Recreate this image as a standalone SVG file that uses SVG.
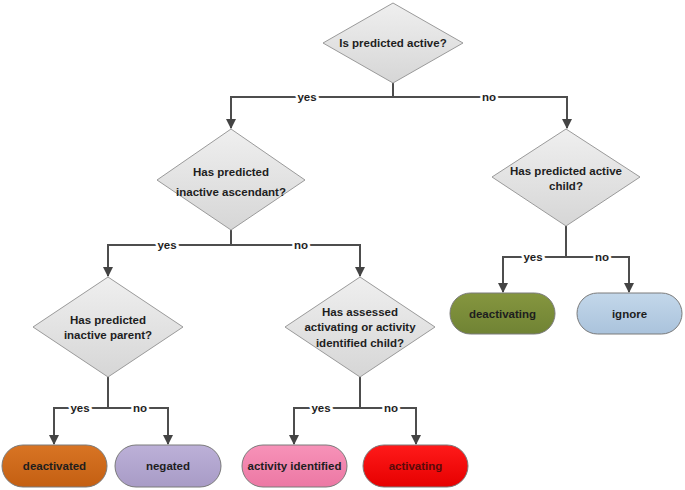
<svg xmlns="http://www.w3.org/2000/svg" width="685" height="490" viewBox="0 0 685 490">
<defs>
<linearGradient id="gd" x1="0" y1="0" x2="0" y2="1"><stop offset="0" stop-color="#efefef"/><stop offset="1" stop-color="#d6d6d6"/></linearGradient>
<linearGradient id="g1" x1="0" y1="0" x2="0" y2="1"><stop offset="0" stop-color="#d87424"/><stop offset="1" stop-color="#c45f12"/></linearGradient>
<linearGradient id="g2" x1="0" y1="0" x2="0" y2="1"><stop offset="0" stop-color="#bcb0d8"/><stop offset="1" stop-color="#a89bc6"/></linearGradient>
<linearGradient id="g3" x1="0" y1="0" x2="0" y2="1"><stop offset="0" stop-color="#f792b8"/><stop offset="1" stop-color="#ec78a4"/></linearGradient>
<linearGradient id="g4" x1="0" y1="0" x2="0" y2="1"><stop offset="0" stop-color="#ff1a1a"/><stop offset="1" stop-color="#e60000"/></linearGradient>
<linearGradient id="g5" x1="0" y1="0" x2="0" y2="1"><stop offset="0" stop-color="#85963f"/><stop offset="1" stop-color="#708334"/></linearGradient>
<linearGradient id="g6" x1="0" y1="0" x2="0" y2="1"><stop offset="0" stop-color="#c3d7ea"/><stop offset="1" stop-color="#aac3dc"/></linearGradient>
<marker id="arr" viewBox="0 0 10 10" refX="9" refY="5" markerWidth="5.2" markerHeight="5.2" orient="auto"><path d="M0,0 L10,5 L0,10 z" fill="#444"/></marker>
</defs>
<style>
.dia{fill:url(#gd);stroke:#9a9a9a;stroke-width:1}
.pill{stroke:#7a7a7a;stroke-width:1}
.t{font-family:"Liberation Sans",Arial,sans-serif;font-weight:bold;font-size:11.5px;fill:#1e1e1e;text-anchor:middle}
.c{fill:none;stroke:#4d4d4d;stroke-width:2}
.a{marker-end:url(#arr)}
.lbl{font-family:"Liberation Sans",Arial,sans-serif;font-weight:bold;font-size:11.5px;fill:#1e1e1e;text-anchor:middle;paint-order:stroke;stroke:#fff;stroke-width:5px}
</style>
<rect width="685" height="490" fill="#fff"/>
<g id="connectors">
<path class="c" d="M393,83 V97"/>
<path class="c a" d="M393,97 H231 V128"/>
<path class="c a" d="M393,97 H567 V128"/>
<path class="c" d="M231,230 V245"/>
<path class="c a" d="M231,245 H108 V276"/>
<path class="c a" d="M231,245 H360 V276"/>
<path class="c" d="M108,377 V408"/>
<path class="c a" d="M108,408 H54 V444"/>
<path class="c a" d="M108,408 H168 V444"/>
<path class="c" d="M360,377 V408"/>
<path class="c a" d="M360,408 H294 V444"/>
<path class="c a" d="M360,408 H416 V444"/>
<path class="c" d="M566,226 V257"/>
<path class="c a" d="M566,257 H503 V292"/>
<path class="c a" d="M566,257 H629 V292"/>
<text class="lbl" x="307" y="101">yes</text>
<text class="lbl" x="489" y="101">no</text>
<text class="lbl" x="167" y="249">yes</text>
<text class="lbl" x="301" y="249">no</text>
<text class="lbl" x="80" y="412">yes</text>
<text class="lbl" x="140" y="412">no</text>
<text class="lbl" x="321" y="412">yes</text>
<text class="lbl" x="391" y="412">no</text>
<text class="lbl" x="533" y="261">yes</text>
<text class="lbl" x="602" y="261">no</text>
</g>
<g id="q1"><polygon class="dia" points="393,3 463,43 393,83 323,43"/><text class="t" x="393" y="47">Is predicted active?</text></g>
<g id="q2"><polygon class="dia" points="231,129 305,180 231,230 157,180"/><text class="t" x="231" y="176">Has predicted</text><text class="t" x="231" y="196">inactive ascendant?</text></g>
<g id="q3"><polygon class="dia" points="108,277 183,327 108,377 33,327"/><text class="t" x="108" y="324">Has predicted</text><text class="t" x="108" y="339">inactive parent?</text></g>
<g id="q4"><polygon class="dia" points="360,277 435,327 360,377 285,327"/><text class="t" x="360" y="316">Has assessed</text><text class="t" x="360" y="331">activating or activity</text><text class="t" x="360" y="347">identified child?</text></g>
<g id="q5"><polygon class="dia" points="566,129 640,177 566,226 492,177"/><text class="t" x="566" y="175">Has predicted active</text><text class="t" x="566" y="190">child?</text></g>
<g id="deactivated"><rect class="pill" x="2" y="445" width="105" height="42" rx="21" fill="url(#g1)"/><text class="t" x="54.5" y="470">deactivated</text></g>
<g id="negated"><rect class="pill" x="115" y="445" width="106" height="42" rx="21" fill="url(#g2)"/><text class="t" x="168" y="470">negated</text></g>
<g id="activity-identified"><rect class="pill" x="242" y="445" width="105" height="42" rx="21" fill="url(#g3)"/><text class="t" x="294.5" y="470">activity identified</text></g>
<g id="activating"><rect class="pill" x="363" y="445" width="105" height="42" rx="21" fill="url(#g4)"/><text class="t" x="415.5" y="470" style="fill:#5a0a0a">activating</text></g>
<g id="deactivating"><rect class="pill" x="450" y="293" width="105" height="41" rx="20.5" fill="url(#g5)"/><text class="t" x="502.5" y="318">deactivating</text></g>
<g id="ignore"><rect class="pill" x="577" y="293" width="105" height="41" rx="20.5" fill="url(#g6)"/><text class="t" x="629.5" y="318">ignore</text></g>
</svg>
